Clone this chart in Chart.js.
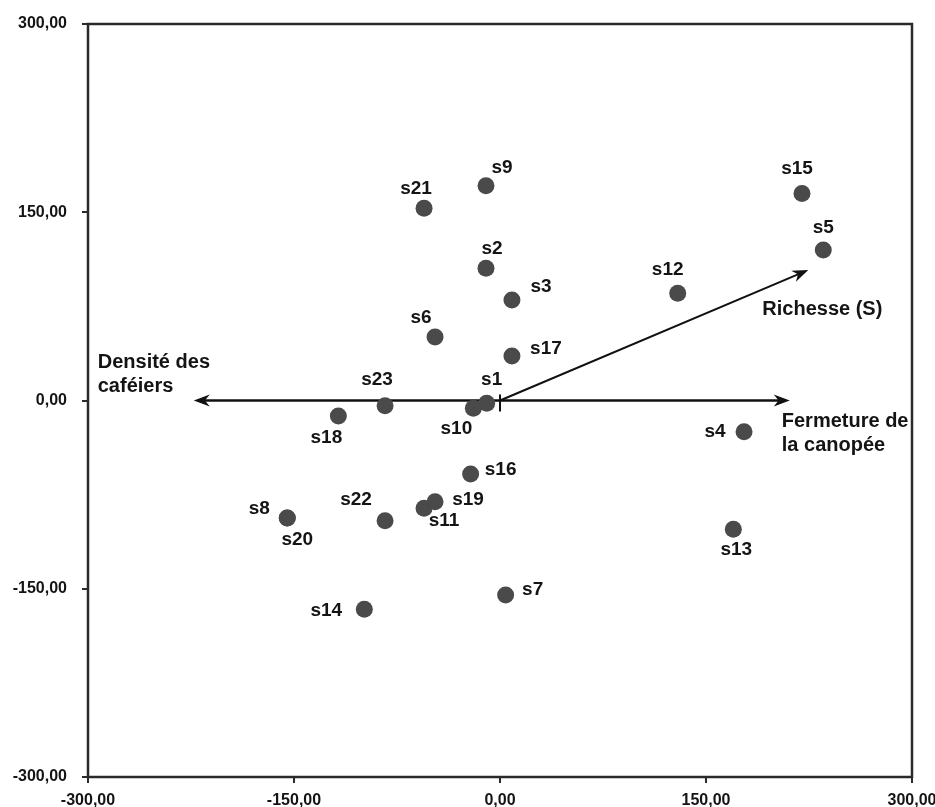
<!DOCTYPE html>
<html>
<head>
<meta charset="utf-8">
<script src="https://cdn.jsdelivr.net/npm/chart.js@4/dist/chart.umd.min.js"></script>
<style>
  html, body { margin: 0; padding: 0; background: #ffffff; }
  #wrap { width: 935px; height: 807px; }
</style>
</head>
<body>
<div id="wrap"><canvas id="c" width="935" height="807"></canvas></div>
<script>
// ---------- DATA ----------
const siteNames = ['s1','s2','s3','s4','s5','s6','s7','s8','s9','s10','s11','s12','s13','s14','s15','s16','s17','s18','s19','s20','s21','s22','s23'];
const axis1Scores = [-9.7, -10.2, 8.7, 177.7, 235.4, -47.3, 4.1, -154.9, -10.2, -19.4, -55.3, 129.4, 169.9, -98.8, 219.9, -21.4, 8.7, -117.7, -47.3, -154.9, -55.3, -83.7, -83.7];
const axis2Scores = [-2.2, 105.3, 80.0, -24.9, 119.9, 50.6, -155.0, -93.6, 171.2, -6.2, -85.9, 85.4, -102.6, -166.4, 164.9, -58.6, 35.5, -12.4, -80.6, -93.6, 153.1, -95.8, -4.1];

const vectorNames = [['Densité des', 'caféiers'], ['Fermeture de', 'la canopée'], ['Richesse (S)']];
const vectorX = [-223, 211, 224.5];
const vectorY = [0, 0, 104];

const tickValues = [-300, -150, 0, 150, 300];

// ---------- STYLE / LAYOUT ----------
const labelOffsets = {
  s1:[5,-23], s2:[6,-20], s3:[29,-13], s4:[-29,0], s5:[0,-22], s6:[-14,-19], s7:[27,-5],
  s8:[-28,-9], s9:[16,-18], s10:[-17,20], s11:[20,12], s12:[-10,-24], s13:[3,21], s14:[-38,1],
  s15:[-5,-25], s16:[30,-4], s17:[34,-7], s18:[-12,22], s19:[33,-2], s20:[10,22], s21:[-8,-20],
  s22:[-29,-21], s23:[-8,-26]
};
const vectorLabelOffsets = [[-96,-38], [-8,21], [-46,40]];
const FONT = '"Liberation Sans", Arial, Helvetica, sans-serif';
const INK = '#141414';

const fmt = v => Number(v).toFixed(2).replace('.', ',');

function drawArrowHead(ctx, x0, y0, x1, y1, len, half) {
  const a = Math.atan2(y1 - y0, x1 - x0);
  const c = Math.cos(a), s = Math.sin(a);
  const bx = x1 - len * c, by = y1 - len * s;
  const nx = x1 - len * 0.7 * c, ny = y1 - len * 0.7 * s;
  ctx.beginPath();
  ctx.moveTo(x1, y1);
  ctx.lineTo(bx - half * s, by + half * c);
  ctx.lineTo(nx, ny);
  ctx.lineTo(bx + half * s, by - half * c);
  ctx.closePath();
  ctx.fill();
}

const framePlugin = {
  id: 'frame',
  beforeDatasetsDraw(chart) {
    const {ctx, chartArea: a, scales} = chart;
    ctx.save();
    ctx.strokeStyle = '#2a2a2a';
    ctx.lineWidth = 2.5;
    ctx.strokeRect(a.left, a.top, a.right - a.left, a.bottom - a.top);
    // vectors (biplot arrows)
    const ox = scales.x.getPixelForValue(0), oy = scales.y.getPixelForValue(0);
    ctx.strokeStyle = '#111';
    ctx.fillStyle = '#111';
    vectorX.forEach((vx, i) => {
      const px = scales.x.getPixelForValue(vx), py = scales.y.getPixelForValue(vectorY[i]);
      ctx.lineWidth = vectorY[i] === 0 ? 2.5 : 2;
      const ang = Math.atan2(py - oy, px - ox);
      ctx.beginPath();
      ctx.moveTo(ox, oy);
      ctx.lineTo(px - 8 * Math.cos(ang), py - 8 * Math.sin(ang));
      ctx.stroke();
      drawArrowHead(ctx, ox, oy, px, py, 16, 6);
    });
    // small origin marker
    ctx.lineWidth = 2;
    ctx.beginPath();
    ctx.moveTo(ox, oy - 6);
    ctx.lineTo(ox, oy + 11);
    ctx.stroke();
    ctx.restore();
  },
  afterDatasetsDraw(chart) {
    const {ctx, scales} = chart;
    ctx.save();
    ctx.fillStyle = INK;
    ctx.font = 'bold 19px ' + FONT;
    ctx.textAlign = 'center';
    ctx.textBaseline = 'middle';
    siteNames.forEach((n, i) => {
      const px = scales.x.getPixelForValue(axis1Scores[i]);
      const py = scales.y.getPixelForValue(axis2Scores[i]);
      const o = labelOffsets[n];
      ctx.fillText(n, px + o[0], py + o[1]);
    });
    ctx.textAlign = 'left';
    ctx.font = 'bold 20px ' + FONT;
    vectorNames.forEach((lines, i) => {
      const px = scales.x.getPixelForValue(vectorX[i]);
      const py = scales.y.getPixelForValue(vectorY[i]);
      const o = vectorLabelOffsets[i];
      lines.forEach((t, k) => ctx.fillText(t, px + o[0], py + o[1] + k * 24));
    });
    ctx.restore();
  }
};

const tickFont = { family: FONT, size: 16, weight: 'bold' };

new Chart(document.getElementById('c'), {
  type: 'scatter',
  data: {
    datasets: [{
      data: siteNames.map((n, i) => ({ x: axis1Scores[i], y: axis2Scores[i] })),
      backgroundColor: '#4a4a4a',
      borderWidth: 0,
      pointRadius: 8.5,
      pointHoverRadius: 8.5
    }]
  },
  options: {
    responsive: false,
    animation: false,
    events: [],
    layout: { padding: { top: 24, right: 23, left: 0, bottom: 0 } },
    plugins: { legend: { display: false }, tooltip: { enabled: false } },
    scales: {
      x: {
        type: 'linear', min: -300, max: 300,
        afterBuildTicks: s => { s.ticks = tickValues.map(v => ({ value: v })); },
        afterFit: s => { s.height = 30; s.paddingLeft = 0; s.paddingRight = 0; },
        border: { display: false },
        grid: { display: true, drawOnChartArea: false, drawTicks: true, tickLength: 6, color: '#2a2a2a', lineWidth: 2 },
        ticks: { callback: v => fmt(v), font: tickFont, color: INK, padding: 8, maxRotation: 0, autoSkip: false }
      },
      y: {
        type: 'linear', min: -300, max: 300,
        afterBuildTicks: s => { s.ticks = tickValues.map(v => ({ value: v })); },
        afterFit: s => { s.width = 88; s.paddingTop = 0; s.paddingBottom = 0; },
        border: { display: false },
        grid: { display: true, drawOnChartArea: false, drawTicks: true, tickLength: 6, color: '#2a2a2a', lineWidth: 2 },
        ticks: { callback: v => fmt(v), font: tickFont, color: INK, padding: 15, autoSkip: false }
      }
    }
  },
  plugins: [framePlugin]
});
</script>
</body>
</html>
